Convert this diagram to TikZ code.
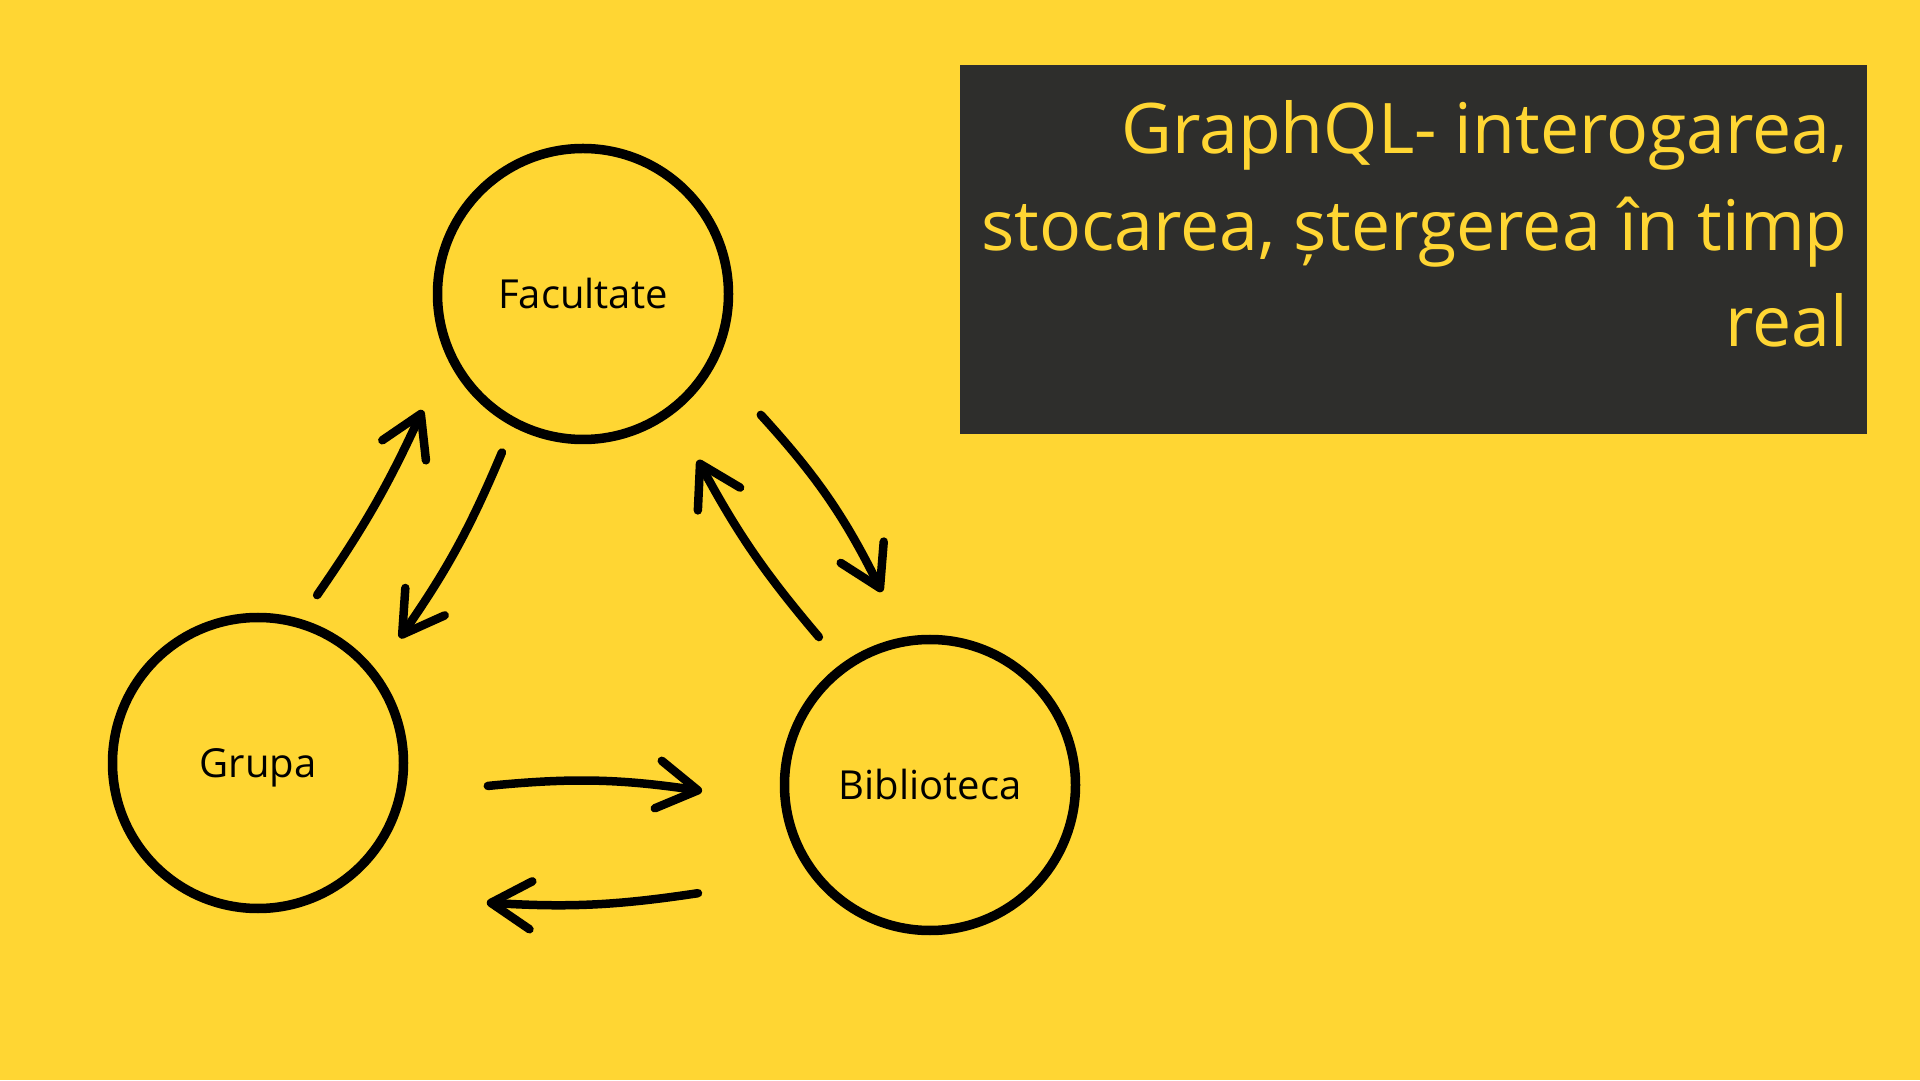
\documentclass[tikz,border=0pt]{standalone}
\usepackage{fontspec}
\setmainfont{Open Sans}
\usepackage{tikz}
\usetikzlibrary{arrows.meta}
\definecolor{canvas}{RGB}{255,214,51}
\definecolor{board}{RGB}{46,46,44}
\tikzstyle{entity}=[circle, draw, line width=9.5pt, minimum size=291pt, inner sep=0pt, text height=30pt, text depth=0pt, font=\fontsize{40}{48}\selectfont]
\tikzstyle{link}=[line width=8.5pt, line cap=round, -{Straight Barb[length=40pt,width=48pt,round]}]

\begin{document}
\begin{tikzpicture}[x=1pt, y=1pt]
	\useasboundingbox (0,0) rectangle (1920,1080);
	\fill[canvas] (0,0) rectangle (1920,1080);
	\fill[board] (960,646) rectangle (1867,1015);
	\node[anchor=base east, align=right, inner sep=0pt, text=canvas, font=\fontsize{69.8}{96.5}\selectfont] (title) at (1848,733) {GraphQL- interogarea,\\stocarea, ștergerea în timp\\real};
	\node[entity] (fac) at (583,786) {Facultate};
	\node[entity] (grp) at (258,317) {Grupa};
	\node[entity] (bib) at (930,295) {Biblioteca};
	% arrow ends, around the circles
	\foreach \n/\c/\a/\r in {gf0/grp/70.6/178, gf1/fac/215.9/198, fg0/fac/242.9/178, fg1/grp/41.4/189,
			fb0/fac/-34.2/215, fb1/bib/104/199, bf0/bib/126.9/185, bf1/fac/-55.3/202,
			gb0/grp/-5.7/231, gb1/bib/181.5/228, bg0/bib/205/256, bg1/grp/-31.4/268}{
		\coordinate (\n) at ([shift={(\a:\r)}]\c.center);
	}
	\foreach \s/\e/\b in {gf0/gf1/-5, fg0/fg1/6, fb0/fb1/8, bf0/bf1/6, gb0/gb1/7, bg0/bg1/6}{
		\draw[link] (\s) to[bend left=\b] (\e);
	}
\end{tikzpicture}
\end{document}
